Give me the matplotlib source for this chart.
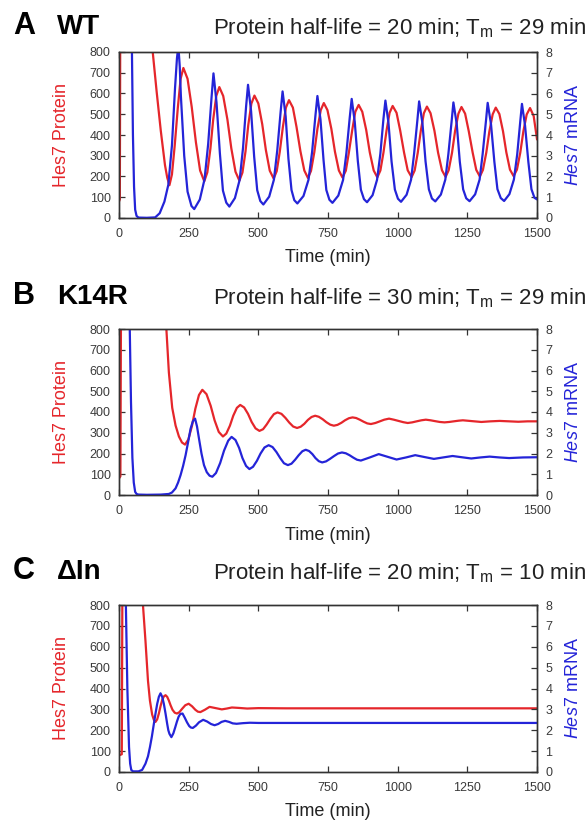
import matplotlib
matplotlib.use("Agg")
import matplotlib.pyplot as plt

plt.rcParams['font.family'] = ['Liberation Sans', 'DejaVu Sans']
plt.rcParams['mathtext.fontset'] = 'custom'
plt.rcParams['mathtext.rm'] = 'Liberation Sans'
plt.rcParams['mathtext.it'] = 'Liberation Sans:italic'
plt.rcParams['mathtext.default'] = 'regular'

RED = '#e5262b'
BLUE = '#2424d8'

# ---- panel A (WT) ----
a_protein_t = [0, 3, 5, 40, 80, 110, 121, 135, 150, 165, 173, 181,
               190, 200, 211, 221, 231, 246, 261, 276, 291, 306,
               317, 328, 338, 349, 360, 374, 389, 403, 418, 432,
               443, 454, 464, 475, 486, 500, 514, 527, 541, 555,
               566, 577, 588, 599, 610, 624, 637, 651, 665, 678,
               689, 701, 712, 724, 735, 748, 762, 775, 789, 802,
               814, 825, 837, 848, 860, 873, 887, 900, 914, 927,
               938, 949, 960, 971, 982, 996, 1009, 1023, 1036, 1050,
               1061, 1072, 1083, 1094, 1105, 1118, 1132, 1145, 1159, 1172,
               1183, 1195, 1206, 1218, 1229, 1242, 1255, 1269, 1282, 1295,
               1306, 1318, 1329, 1341, 1352, 1365, 1378, 1390, 1403, 1416,
               1428, 1440, 1451, 1463, 1475, 1488, 1500]
a_protein = [80, 90, 1200, 2000, 1700, 1000, 800, 610, 420, 255, 195, 158,
             210, 350, 530, 670, 723, 671, 535, 365, 229, 177,
             220, 334, 474, 588, 631, 588, 475, 336, 223, 180,
             219, 321, 449, 551, 590, 552, 452, 328, 228, 190,
             226, 320, 438, 532, 568, 532, 439, 322, 229, 193,
             227, 318, 429, 520, 554, 520, 430, 319, 229, 195,
             228, 316, 424, 512, 545, 512, 425, 316, 229, 196,
             229, 315, 421, 507, 540, 507, 422, 315, 230, 197,
             229, 314, 420, 505, 537, 505, 420, 315, 230, 198,
             230, 314, 419, 503, 535, 503, 419, 316, 232, 200,
             232, 315, 417, 500, 532, 501, 418, 316, 233, 202,
             233, 315, 417, 499, 530, 492, 380]

a_mrna_t = [0, 38, 46, 50, 54, 58, 63, 70, 100, 130, 146, 163, 177, 190,
            201, 208, 213, 218, 222, 234, 246, 260, 270,
            290, 307, 320, 332, 339, 350, 362, 373, 385, 396,
            416, 433, 445, 456, 463, 474, 485, 496, 507, 518,
            539, 556, 568, 580, 587, 598, 608, 619, 629, 640,
            662, 680, 693, 705, 712, 723, 734, 744, 755, 766,
            787, 804, 816, 828, 835, 846, 857, 868, 879, 890,
            910, 926, 938, 949, 956, 967, 978, 990, 1001, 1012,
            1032, 1048, 1059, 1071, 1077, 1089, 1100, 1112, 1123, 1135,
            1155, 1171, 1182, 1194, 1200, 1212, 1223, 1235, 1246, 1258,
            1278, 1294, 1305, 1317, 1323, 1335, 1347, 1358, 1370, 1382,
            1401, 1417, 1429, 1440, 1446, 1457, 1469, 1480, 1491, 1500]
a_mrna = [20, 12, 8.5, 4, 1.5, 0.4, 0.1, 0.02, 0.01, 0.03, 0.23, 0.79, 1.6, 3.5,
          6.25, 7.7, 8.3, 7.3, 5.9, 3.0, 1.27, 0.58, 0.43,
          0.89, 1.87, 3.57, 5.79, 6.97, 5.56, 3.12, 1.32, 0.74, 0.55,
          0.96, 1.84, 3.37, 5.36, 6.42, 5.15, 2.96, 1.34, 0.82, 0.65,
          1.03, 1.85, 3.27, 5.12, 6.1, 4.91, 2.86, 1.35, 0.86, 0.70,
          1.06, 1.84, 3.19, 4.95, 5.88, 4.75, 2.79, 1.35, 0.88, 0.73,
          1.08, 1.83, 3.13, 4.84, 5.74, 4.64, 2.75, 1.36, 0.91, 0.76,
          1.10, 1.84, 3.11, 4.78, 5.66, 4.59, 2.73, 1.37, 0.93, 0.78,
          1.12, 1.84, 3.10, 4.75, 5.62, 4.56, 2.73, 1.38, 0.94, 0.80,
          1.13, 1.85, 3.09, 4.71, 5.57, 4.52, 2.71, 1.38, 0.95, 0.81,
          1.14, 1.85, 3.09, 4.70, 5.55, 4.51, 2.71, 1.39, 0.96, 0.82,
          1.15, 1.85, 3.07, 4.66, 5.5, 4.47, 2.7, 1.39, 0.97, 0.9]

# ---- panel B (K14R) ----
b_protein_t = [0, 5, 8, 60, 120, 160, 170,
               179, 191, 203, 215, 226, 237,
               249, 262, 274, 287, 299, 314, 329, 343, 358, 373,
               385, 398, 410, 423, 435, 449, 463, 476, 490, 504,
               517, 530, 543, 556, 569, 583, 597, 611, 625, 639,
               652, 665, 678, 691, 704, 717, 731, 744, 758, 771,
               784, 798, 811, 825, 838, 851, 864, 878, 891, 904,
               920, 936, 952, 969, 986, 1003, 1020, 1036,
               1052, 1068, 1085, 1101, 1118, 1134, 1151, 1168,
               1185, 1201, 1218, 1234, 1267, 1300, 1333, 1366,
               1400, 1433, 1466, 1500]
b_protein = [80, 90, 1200, 2500, 2000, 1100, 800,
             590, 420, 335, 282, 253, 243,
             268, 334, 416, 482, 507, 486, 430, 360, 304, 282,
             296, 334, 382, 420, 434, 422, 391, 352, 321, 309,
             317, 340, 367, 390, 398, 391, 372, 349, 330, 323,
             329, 343, 362, 376, 382, 377, 365, 351, 339, 334,
             338, 348, 360, 370, 374, 371, 363, 353, 345, 342,
             347, 355, 363, 368, 363, 357, 351, 347,
             350, 355, 360, 363, 360, 356, 352, 350,
             352, 355, 358, 360, 356, 352, 355, 357,
             355, 353, 355, 355]

b_mrna_t = [0, 30, 38, 43, 48, 53, 58, 63, 70, 100, 150, 179, 190, 203, 212,
            221, 230, 239, 248, 257, 265, 273, 280, 287, 296, 305, 315, 325, 335,
            348, 363, 377, 392, 404, 418, 431, 443, 456, 468,
            481, 495, 508, 522, 537, 551, 565, 579, 592, 606,
            619, 632, 645, 658, 670, 682, 694, 705, 717, 729,
            743, 757, 772, 786, 800, 814, 827, 841, 854, 868,
            900, 932, 964, 996, 1030, 1063, 1096, 1130, 1163, 1197,
            1230, 1264, 1297, 1330, 1365, 1400, 1450, 1500]
b_mrna = [20, 12, 8.5, 4.5, 1.8, 0.6, 0.15, 0.05, 0.02, 0.01, 0.02, 0.05, 0.12, 0.32, 0.6,
          0.96, 1.4, 1.92, 2.55, 3.2, 3.55, 3.68, 3.3, 2.72, 2.0, 1.44, 1.1, 0.93, 0.88,
          1.06, 1.54, 2.14, 2.62, 2.8, 2.65, 2.27, 1.78, 1.40, 1.25,
          1.36, 1.65, 2.0, 2.29, 2.4, 2.31, 2.07, 1.77, 1.53, 1.44,
          1.51, 1.70, 1.92, 2.11, 2.18, 2.12, 1.97, 1.78, 1.63, 1.57,
          1.62, 1.74, 1.88, 2.0, 2.05, 2.01, 1.92, 1.80, 1.70, 1.66,
          1.81, 1.97, 1.84, 1.71, 1.81, 1.92, 1.83, 1.74, 1.81, 1.88,
          1.82, 1.76, 1.81, 1.85, 1.81, 1.78, 1.81, 1.82]

# ---- panel C (delta In) ----
c_protein_t = [0, 10, 13, 50, 80, 86, 95, 104, 111, 119, 125, 131, 137, 143,
               149, 155, 161, 167, 173, 179, 185, 192, 200, 208, 217, 226,
               238, 250, 262, 274, 283, 292, 308, 325, 347, 369, 387, 405,
               430, 460, 500, 600, 800, 1000, 1500]
c_protein = [80, 85, 1200, 2500, 1000, 800, 628, 437, 342, 275, 250, 240, 252, 280,
             315, 345, 362, 368, 360, 342, 320, 298, 284, 280, 287, 302,
             320, 327, 315, 298, 289, 287, 298, 312, 306, 300, 304, 309,
             307, 304, 306, 305, 305, 305, 305]

c_mrna_t = [0, 20, 24, 30, 36, 40, 44, 50, 70, 83, 95, 104, 111, 118, 125,
            131, 137, 143, 149, 155, 161, 167, 173, 177, 181, 188, 195, 202,
            208, 214, 220, 228, 236, 244, 252, 258, 265, 276, 287, 302, 316,
            330, 343, 356, 368, 381, 395, 408, 422, 445, 470, 500, 1500]
c_mrna = [20, 12, 8.5, 4, 1.2, 0.4, 0.1, 0.03, 0.03, 0.1, 0.4, 0.75, 1.19, 1.7, 2.3,
          2.8, 3.26, 3.6, 3.77, 3.6, 3.26, 2.8, 2.3, 2.0, 1.83, 1.67, 1.85, 2.15,
          2.42, 2.65, 2.78, 2.8, 2.6, 2.38, 2.2, 2.13, 2.11, 2.22, 2.38, 2.5, 2.42,
          2.3, 2.24, 2.3, 2.4, 2.45, 2.4, 2.33, 2.31, 2.34, 2.36, 2.35, 2.35]

panel_letters = ['A', 'B', 'C']
panel_names = ['WT', 'K14R', '\u0394In']
panel_titles = ['Protein half-life = 20 min; T$_{m}$ = 29 min',
                'Protein half-life = 30 min; T$_{m}$ = 29 min',
                'Protein half-life = 20 min; T$_{m}$ = 10 min']
protein_series = [(a_protein_t, a_protein), (b_protein_t, b_protein), (c_protein_t, c_protein)]
mrna_series = [(a_mrna_t, a_mrna), (b_mrna_t, b_mrna), (c_mrna_t, c_mrna)]

W, H = 588, 823
# axes boxes in pixels: left, top, right, bottom
boxes = [(119, 52, 537, 218), (119, 329, 537, 495), (119, 605, 537, 772)]
title_base = [34, 304, 579]


def fx(x):
    return x / W


def fy(y):
    return 1 - y / H


fig = plt.figure(figsize=(W / 100, H / 100), dpi=100)

for i in range(3):
    l, t, r, b = boxes[i]
    ax = fig.add_axes([fx(l), fy(b), (r - l) / W, (b - t) / H])
    ax2 = ax.twinx()

    pt, pv = protein_series[i]
    mt, mv = mrna_series[i]
    ax.plot(pt, pv, color=RED, lw=1.6, solid_joinstyle='round')
    ax2.plot(mt, mv, color=BLUE, lw=1.6, solid_joinstyle='round')

    ax.set_xlim(0, 1500)
    ax.set_ylim(0, 800)
    ax2.set_ylim(0, 8)
    ax.set_xticks(range(0, 1501, 250))
    ax.set_yticks(range(0, 801, 100))
    ax2.set_yticks(range(0, 9))

    ax.tick_params(axis='both', direction='in', length=4, width=0.9,
                   color='#333333', labelcolor='#3a3a3a', labelsize=9, pad=6)
    ax.tick_params(axis='x', top=True, pad=7)
    ax2.tick_params(axis='y', direction='in', length=4, width=0.9,
                    color='#333333', labelcolor='#3a3a3a', labelsize=9, pad=6)
    for a in (ax, ax2):
        for s in a.spines.values():
            s.set_linewidth(1.0)
            s.set_color('#333333')

    cy = (t + b) / 2
    fig.text(fx(62), fy(cy), 'Hes7 Protein', color=RED, fontsize=13,
             rotation=90, ha='center', va='center')
    fig.text(fx(574), fy(cy), '$\\mathit{Hes7}$ mRNA', color=BLUE, fontsize=13,
             rotation=90, ha='center', va='center')
    fig.text(fx((l + r) / 2), fy(b + 40), 'Time (min)', fontsize=13,
             color='#222222', ha='center', va='center')

    fig.text(fx(13), fy(title_base[i]), panel_letters[i], fontsize=22,
             fontweight='bold', ha='left', va='baseline')
    fig.text(fx(57), fy(title_base[i]), panel_names[i], fontsize=20,
             fontweight='bold', ha='left', va='baseline')
    fig.text(fx(586), fy(title_base[i]), panel_titles[i], fontsize=16,
             color='#222222', ha='right', va='baseline')

fig.savefig('out.png', dpi=100)
